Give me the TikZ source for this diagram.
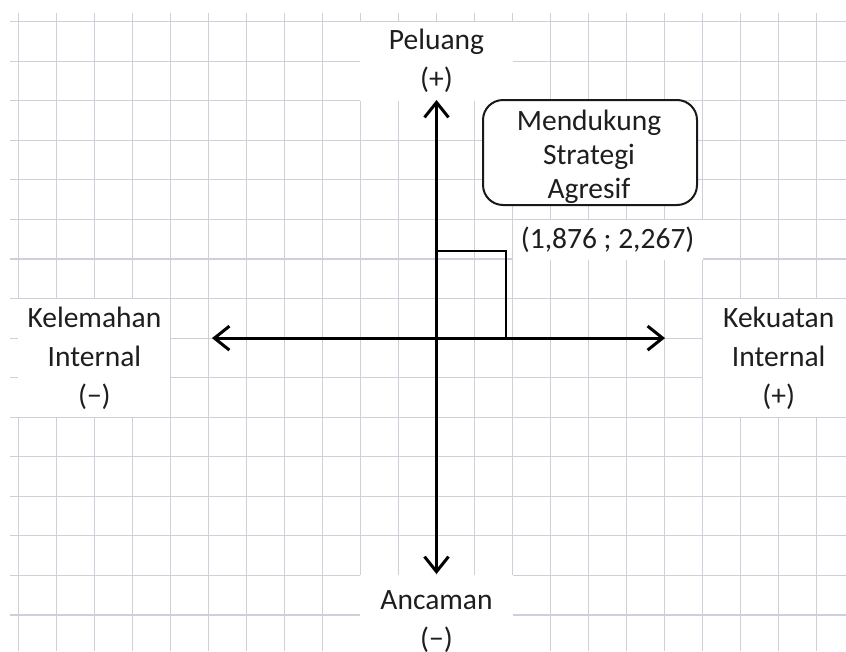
\documentclass[tikz,border=0pt]{standalone}
\usepackage{fontspec}
\setmainfont{Carlito}
\usetikzlibrary{arrows.meta}
\definecolor{gridc}{RGB}{205,208,217}
\definecolor{txt}{RGB}{30,30,30}
\tikzset{
  gridline/.style={draw=gridc, line width=1.1pt},
  lbl/.style={fill=white, inner sep=0pt, align=center, text=txt,
    font=\fontsize{29.5}{39}\selectfont},
  axis/.style={draw=black, line width=3pt,
    {Straight Barb[length=15pt,width=24pt,line width=3pt]}-{Straight Barb[length=15pt,width=24pt,line width=3pt]}},
  marker/.style={draw=black, line width=2.7pt, line join=miter},
  rbox/.style={draw=black!90, line width=2pt, rounded corners=20pt, fill=white,
    align=center, text=txt, inner sep=0pt, font=\fontsize{29.5}{34}\selectfont}
}
\begin{document}
\begin{tikzpicture}[x=1pt,y=-1pt]
\useasboundingbox[fill=white] (0,0) rectangle (846,651);
% grid
\foreach \k in {0,...,21}{
  \draw[gridline] ({18.3+38.02*\k},13) -- ({18.3+38.02*\k},651);
}
\foreach \k in {0,...,15}{
  \draw[gridline] (10,{21.7+39.55*\k}) -- (846,{21.7+39.55*\k});
}
% labels on white cell blocks
\node[lbl, minimum width=152.1pt, minimum height=79.1pt] (peluang) at (436.5,61.25) {Peluang\\(+)};
\node[lbl, minimum width=152.1pt, minimum height=118.6pt] (kelemahan) at (94.4,357.9) {Kelemahan\\Internal\\(−)};
\node[lbl, minimum width=152.1pt, minimum height=118.6pt] (kekuatan) at (778.7,357.9) {Kekuatan\\Internal\\(+)};
\node[lbl, minimum width=152.1pt, minimum height=79.1pt] (ancaman) at (436.5,614.7) {};
\node[lbl, fill=none, anchor=base] (ancamantext) at (436.5,648) {Ancaman\\(−)};
\node[lbl, minimum width=190.1pt, minimum height=39.55pt] (plabel) at (607.6,240) {(1,876 ; 2,267)};
% axes
\coordinate (O) at (436.5,338.1);
\coordinate (top) at (436.5,100);
\coordinate (bottom) at (436.5,574);
\coordinate (left) at (212,338.1);
\coordinate (right) at (665,338.1);
\coordinate (P) at (506,251);
\draw[marker] (O |- P) -- (P) -- (P |- O);
\draw[axis] (bottom) -- (top);
\draw[axis] (left) -- (right);
% strategy box
\node[rbox, minimum width=214pt, minimum height=105pt] (strategi) at (590,152.5) {};
\node[rbox, draw=none, fill=none] (strategitext) at (589,156.5) {Mendukung\\Strategi\\Agresif};
\end{tikzpicture}
\end{document}
